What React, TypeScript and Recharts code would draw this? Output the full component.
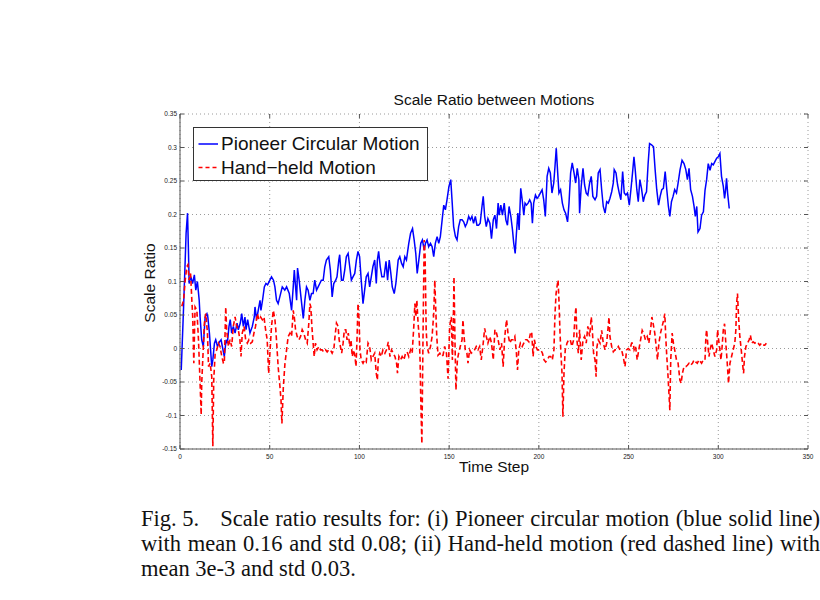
import { LineChart, Line, XAxis, YAxis, CartesianGrid } from 'recharts'

// pioneer circular motion (blue, solid)
const pioneerSteps = [
  0.7, 2, 2.9, 3.4, 4.2, 4.7, 5.1, 6, 7, 8, 8.8, 9.7, 10.7, 11.2, 12.1, 13, 14, 15, 15.5, 16.4,
  17.7, 18.3, 19.2, 19.9, 20.9, 22, 22.9, 23.6, 24.7, 25.7, 26.4, 27.3, 28, 28.8, 29.7, 30.7, 31.8, 32.5, 33.6, 34.4,
  35.3, 36.2, 36.8, 37.7, 39, 40.3, 41.4, 41.8, 42.7, 43.6, 44.6, 45.1, 46, 47, 47.9, 48.8, 51, 52.1, 52.9, 53.8,
  54.7, 57, 58.4, 59.4, 60.9, 62.2, 63.1, 63.7, 64.4, 65, 65.5, 66.4, 67.4, 68.7, 69.6, 70.5, 71.4, 72.4, 73.3, 74.2,
  75.1, 76.1, 77, 77.9, 78.8, 79.8, 80.7, 81.6, 82.9, 83.8, 84.8, 85.7, 86.8, 87.5, 88.5, 89, 90, 90.9, 91.8, 92.7,
  93.7, 94.6, 95.5, 96.4, 97.4, 98.3, 99.2, 100.1, 101, 102, 102.9, 103.8, 104.8, 105.7, 106.6, 107.5, 108.5, 109.4, 110, 110.7,
  111.6, 112.5, 113.7, 114.8, 115.7, 116.6, 117.5, 118.3, 119.4, 120.3, 121.6, 122.5, 123.5, 124.4, 125.3, 126.2, 127.5, 128.5, 129.6, 130.5,
  131.4, 132.2, 133.1, 134.2, 135.1, 136.1, 136.8, 137.7, 138.6, 139.6, 140.5, 141.4, 142.3, 143.3, 144.2, 145.1, 146.1, 147, 147.9, 148.8,
  149.9, 150.9, 151.6, 152.5, 153.5, 154.4, 155.3, 156.2, 157.2, 158.1, 159, 159.9, 160.9, 161.8, 162.7, 163.6, 164.6, 165.5, 166.4, 167.3,
  168.3, 169, 169.8, 170.7, 171.6, 172.7, 173.6, 174.6, 175.5, 176.4, 177.3, 177.9, 178.8, 179.7, 180.7, 181.6, 182.5, 183.4, 184.4, 185.3,
  186, 186.8, 187.5, 188.3, 189, 189.9, 190.7, 191.6, 192.3, 193.1, 194, 194.9, 195.7, 196.4, 197.1, 198.1, 199, 199.9, 200.8, 201.8,
  202.7, 203.6, 204.6, 205.5, 206.4, 207.3, 208.3, 209, 209.7, 210.5, 211.2, 212.1, 213.1, 214, 214.9, 216, 216.8, 217.7, 218.6, 219.6,
  220.5, 221.4, 222.3, 222.7, 223.6, 224.6, 225.5, 226.4, 227.3, 228.3, 229.2, 230.1, 231.3, 232.2, 233.1, 234.1, 235, 235.9, 236.9, 237.8,
  238.7, 239.6, 240.6, 241.5, 242, 243, 243.9, 244.8, 245.7, 246.7, 247.6, 248.5, 249.4, 250.4, 251.3, 252.2, 253, 253.7, 254.6, 255.4,
  256.3, 257.2, 258.2, 259.1, 260, 260.9, 261.7, 262.8, 263.9, 264.8, 265.7, 266.7, 267.6, 268.5, 269.4, 270.4, 271.3, 272.2, 273, 273.9,
  274.8, 275.7, 276.7, 277.6, 278.7, 279.8, 280.9, 281.9, 282.8, 283.7, 284.6, 285.6, 286.5, 287.2, 288, 288.7, 289.8, 290.7, 291.7, 292.6,
  293.5, 294.4, 295.4, 296.3, 297.2, 298.1, 299.1, 300, 300.9, 301.8, 302.8, 303.5, 304.1, 304.6, 305.2, 306.1,
]
const pioneerRatio = [
  -0.032, 0.062, 0.132, 0.172, 0.202, 0.147, 0.097, 0.107, 0.097, 0.11, 0.087, 0.1, 0.072, 0.047, 0.013, 0.003, 0.047, 0.052, 0.047, 0.023,
  -0.027, -0.017, 0.008, 0.013, 0.003, 0.01, 0.013, 0.003, -0.012, 0.013, 0.008, 0.033, 0.043, 0.023, 0.033, 0.023, 0.038, 0.028, 0.038, 0.052,
  0.033, 0.047, 0.028, 0.043, 0.023, 0.033, 0.047, 0.062, 0.043, 0.057, 0.072, 0.057, 0.072, 0.092, 0.097, 0.095, 0.107, 0.102, 0.092, 0.072,
  0.067, 0.092, 0.087, 0.092, 0.082, 0.057, 0.092, 0.117, 0.092, 0.072, 0.12, 0.102, 0.077, 0.045, 0.072, 0.092, 0.087, 0.072, 0.082, 0.082,
  0.102, 0.087, 0.092, 0.097, 0.102, 0.102, 0.122, 0.132, 0.137, 0.117, 0.077, 0.097, 0.102, 0.107, 0.132, 0.14, 0.102, 0.102, 0.117, 0.137,
  0.142, 0.122, 0.102, 0.107, 0.112, 0.132, 0.145, 0.137, 0.102, 0.067, 0.087, 0.107, 0.112, 0.092, 0.107, 0.122, 0.132, 0.097, 0.132, 0.145,
  0.122, 0.107, 0.107, 0.13, 0.102, 0.132, 0.112, 0.092, 0.082, 0.097, 0.132, 0.137, 0.127, 0.122, 0.137, 0.132, 0.157, 0.172, 0.179, 0.162,
  0.142, 0.112, 0.132, 0.157, 0.162, 0.147, 0.157, 0.162, 0.152, 0.157, 0.152, 0.137, 0.157, 0.167, 0.157, 0.167, 0.192, 0.214, 0.207, 0.222,
  0.242, 0.252, 0.222, 0.182, 0.167, 0.162, 0.182, 0.192, 0.192, 0.189, 0.182, 0.187, 0.197, 0.192, 0.197, 0.187, 0.197, 0.184, 0.184, 0.187,
  0.212, 0.227, 0.197, 0.182, 0.194, 0.187, 0.164, 0.192, 0.199, 0.179, 0.217, 0.199, 0.214, 0.199, 0.217, 0.192, 0.184, 0.212, 0.197, 0.177,
  0.157, 0.142, 0.172, 0.202, 0.177, 0.239, 0.222, 0.199, 0.217, 0.214, 0.217, 0.222, 0.217, 0.187, 0.217, 0.229, 0.224, 0.227, 0.232, 0.237,
  0.222, 0.197, 0.257, 0.269, 0.262, 0.232, 0.247, 0.272, 0.299, 0.262, 0.232, 0.237, 0.217, 0.207, 0.202, 0.189, 0.217, 0.262, 0.277, 0.262,
  0.247, 0.269, 0.252, 0.202, 0.242, 0.269, 0.244, 0.232, 0.229, 0.247, 0.257, 0.227, 0.222, 0.227, 0.262, 0.267, 0.237, 0.212, 0.202, 0.219,
  0.217, 0.224, 0.234, 0.247, 0.267, 0.262, 0.244, 0.232, 0.222, 0.264, 0.232, 0.229, 0.232, 0.214, 0.237, 0.262, 0.286, 0.267, 0.237, 0.219,
  0.252, 0.239, 0.219, 0.229, 0.234, 0.276, 0.306, 0.304, 0.301, 0.267, 0.237, 0.214, 0.227, 0.237, 0.239, 0.264, 0.237, 0.212, 0.197, 0.219,
  0.227, 0.237, 0.232, 0.247, 0.267, 0.281, 0.276, 0.267, 0.252, 0.269, 0.237, 0.227, 0.212, 0.197, 0.212, 0.174, 0.179, 0.199, 0.204, 0.236,
  0.252, 0.276, 0.266, 0.276, 0.274, 0.279, 0.284, 0.286, 0.291, 0.257, 0.242, 0.224, 0.237, 0.254, 0.232, 0.209,
]

// hand-held motion (red, dashed)
const handheldSteps = [
  1, 2, 2.9, 3.8, 4.4, 5.1, 5.9, 6.6, 7.1, 7.7, 8.4, 9.4, 9.9, 10.3, 11.2, 11.8, 12.1, 13.1, 13.6, 14.4,
  15.3, 15.9, 16.8, 17.7, 18.3, 18.8, 19.6, 20.5, 21.4, 22.3, 23.3, 24.2, 24.7, 25.5, 26, 27, 27.9, 28.8, 29.7, 30.7,
  31.6, 32.5, 33.4, 34, 34.7, 35.7, 36.6, 37.5, 38.4, 39.4, 40.3, 41.2, 42.1, 43.1, 44, 44.9, 45.9, 46.8, 47.7, 48.6,
  49.4, 50.1, 51, 52, 52.9, 53.4, 54, 54.7, 55.7, 56.3, 56.8, 57.6, 58.5, 59.4, 60.3, 61.3, 62.2, 63.1, 63.7, 64.4,
  65.3, 66.3, 67.2, 68.1, 69, 70, 70.9, 71.8, 72.4, 72.9, 73.5, 74.2, 74.8, 75.5, 76.4, 77.4, 78.3, 79.2, 80.1, 81.1,
  82, 82.9, 83.8, 84.8, 85.7, 86.4, 87.2, 88.1, 88.7, 89.4, 90.1, 90.9, 91.6, 92.4, 93.1, 93.8, 94.6, 95.3, 96, 96.8,
  97.5, 98.1, 98.7, 99.2, 99.8, 100.3, 101, 102, 102.9, 103.8, 104.8, 105.7, 106.6, 107.5, 108.5, 109.4, 110, 110.5, 111.3, 112.2,
  113.1, 114.2, 115.1, 116.1, 117, 117.9, 118.8, 119.8, 120.7, 121.2, 122, 122.9, 123.8, 124.8, 125.7, 126.6, 127.5, 128.5, 129.4, 130.3,
  130.9, 131.4, 132, 132.7, 133.3, 133.8, 134.2, 134.8, 135.1, 135.5, 136.1, 136.6, 137.2, 137.7, 138.6, 139.6, 140.5, 141.4, 142, 142.5,
  143.1, 143.8, 144.8, 145.7, 146.6, 147.5, 148.5, 149.4, 150.3, 151.2, 151.8, 152.3, 152.7, 153.3, 153.8, 154.6, 155.3, 156.2, 157.2, 157.7,
  158.3, 159, 159.9, 160.5, 161.4, 162.3, 163.3, 164.2, 165.1, 166.1, 167, 167.9, 168.8, 169.8, 170.7, 171.6, 172.7, 173.6, 174.6, 175.5,
  176.4, 177.3, 178.3, 179.2, 180.1, 181, 182, 182.9, 183.8, 184.7, 185.7, 186.6, 187.5, 188.1, 188.8, 189.7, 190.7, 191.6, 192.5, 193.4,
  194.4, 195.3, 196, 196.8, 197.5, 198.3, 199.2, 200.1, 201, 202, 202.9, 203.8, 204.7, 205.7, 206.6, 207.5, 208.4, 209, 209.6, 210.1,
  210.7, 211.2, 211.8, 212.3, 212.9, 213.4, 214, 214.7, 215.7, 216.6, 217.5, 218.4, 219.4, 220.1, 220.7, 221.2, 222, 222.7, 223.6, 224.6,
  225.5, 226.4, 227.3, 228.3, 229.2, 229.7, 230.5, 231.3, 231.9, 232.4, 233.1, 234.1, 235, 235.9, 236.9, 237.8, 238.3, 239.1, 239.6, 240.6,
  241.5, 242.4, 243.3, 244.3, 245.2, 246.1, 247, 248, 248.9, 249.8, 250.7, 251.7, 252.6, 253.1, 253.9, 254.8, 255.7, 256.7, 257.6, 258.5,
  259.4, 260.4, 261.3, 262.2, 263, 263.7, 264.6, 265.6, 266.1, 266.9, 267.8, 268.7, 269.6, 270.2, 270.7, 271.3, 271.9, 272.4, 273, 273.5,
  274.3, 275, 275.7, 276.7, 277.6, 278.6, 279.3, 280, 280.9, 281.9, 282.8, 283.7, 284.6, 285.6, 286.5, 287.4, 288.3, 289.3, 290.7, 291.7,
  292.6, 293.1, 293.5, 294.1, 294.8, 295.4, 296.3, 297.2, 298.1, 299.1, 299.6, 300.4, 300.9, 301.5, 302, 302.8, 303.5, 304.2, 305, 305.7,
  306.5, 307.4, 308.3, 309.2, 309.8, 310.2, 310.7, 311.3, 312, 312.8, 313.5, 314.1, 314.6, 315.4, 316.3, 317.2, 317.9, 318.7, 319.4, 320.4,
  321.3, 322.2, 323.1, 324.1, 325, 325.9, 326.8,
]
const handheldRatio = [
  0.063, 0.072, 0.102, 0.122, 0.125, 0.102, 0.112, 0.072, 0.047, -0.022, 0.062, 0.057, 0.033, 0.013, -0.052, -0.099, -0.052, 0.008, 0.038, 0.052,
  0.023, -0.027, -0.022, -0.042, -0.146, -0.047, -0.007, -0.002, 0.008, 0.003, -0.012, -0.022, -0.022, 0.062, 0.028, 0.003, 0.013, 0.003, 0.033, 0.047,
  0.033, 0.028, 0.013, -0.012, 0.023, 0.033, 0.013, 0.008, 0.013, 0.008, 0.01, 0.023, 0.033, 0.052, 0.043, 0.047, 0.043, 0.047, 0.028, 0.013,
  -0.037, -0.007, 0.033, 0.057, 0.043, 0.028, 0.003, -0.027, -0.057, -0.077, -0.112, -0.057, -0.022, -0.002, 0.018, 0.023, 0.018, 0.057, 0.047, 0.028,
  0.018, 0.013, 0.018, 0.028, 0.023, 0.013, 0.008, 0.038, 0.067, 0.062, 0.033, 0.008, -0.012, 0.008, -0.002, 0.003, -0.002, -0.002, -0.005, -0.002,
  -0.005, -0.002, -0.002, -0.007, -0.002, 0.018, 0.038, 0.033, 0.013, 0.003, -0.007, 0.008, 0.028, 0.028, 0.013, 0.023, 0.003, 0.013, -0.012, -0.002,
  -0.012, -0.027, 0.018, 0.067, 0.043, -0.002, -0.017, -0.022, -0.017, -0.02, 0.008, 0.003, -0.017, -0.012, -0.007, -0.037, -0.047, -0.017, -0.007, -0.012,
  -0.002, -0.007, -0.002, 0.01, -0.012, -0.002, -0.007, -0.012, -0.022, -0.037, -0.012, -0.017, -0.012, -0.017, -0.007, -0.005, -0.012, -0.002, -0.007, 0.033,
  0.067, 0.047, 0.072, 0.037, 0.018, -0.017, -0.077, -0.142, -0.067, 0.033, 0.162, 0.137, 0.028, 0.003, -0.007, 0.003, 0.018, 0.052, 0.102, 0.062,
  0.018, -0.01, -0.007, -0.012, -0.01, 0.003, -0.007, -0.045, 0.033, 0.047, -0.017, 0.033, 0.107, 0.003, -0.062, -0.017, -0.007, 0.003, 0.013, 0.043,
  0.018, -0.002, -0.007, -0.022, -0.002, -0.007, -0.005, -0.002, 0.003, -0.002, 0.003, -0.017, 0.003, 0.03, 0.018, 0.008, 0.018, 0.008, -0.017, 0.028,
  0.023, 0.013, -0.002, 0.008, -0.027, 0.018, 0.043, 0.02, 0.008, 0.013, 0.013, 0.018, -0.007, -0.032, -0.002, 0.008, 0.003, 0.008, 0.013, 0.013,
  0.01, 0.023, 0.025, -0.012, 0.013, 0.003, -0.002, -0.002, -0.002, -0.007, -0.017, -0.02, -0.017, -0.012, -0.012, -0.017, -0.002, 0.052, 0.082, 0.092,
  0.102, 0.072, 0.023, -0.007, -0.037, -0.102, -0.037, -0.002, 0.008, 0.013, 0.013, 0.003, 0.013, 0.047, 0.062, 0.013, -0.007, 0.028, -0.017, 0.013,
  0.018, 0.008, 0.033, 0.018, 0.047, 0.033, -0.007, -0.017, -0.042, 0.003, 0.013, 0.008, 0.027, 0.008, -0.002, 0.008, 0.023, 0.047, 0.018, 0.003,
  -0.005, -0.002, -0.002, 0.003, -0.002, -0.002, -0.012, -0.027, -0.002, 0, -0.002, 0.008, 0.008, -0.002, 0.003, -0.017, -0.002, 0.013, 0.027, 0.022,
  0.013, 0.018, 0.008, 0.027, 0.047, 0.037, 0.023, -0.002, -0.017, 0.008, 0.023, 0.033, 0.043, 0.052, 0.018, -0.012, -0.037, -0.062, -0.092, -0.017,
  0.023, 0.008, -0.002, -0.017, -0.022, -0.047, -0.052, -0.037, -0.027, -0.027, -0.025, -0.022, -0.025, -0.022, -0.017, -0.02, -0.022, -0.017, -0.022, -0.017,
  -0.017, 0.018, 0.028, 0.008, -0.012, -0.002, 0.008, -0.002, -0.012, -0.002, 0.028, 0.008, -0.002, -0.017, -0.002, 0.028, 0.037, 0.008, -0.022, -0.052,
  -0.022, -0.012, -0.002, 0.008, 0.028, 0.067, 0.082, 0.047, 0.018, -0.002, -0.022, -0.037, -0.012, 0.003, 0.008, 0.013, 0.02, 0.008, 0.01, 0.008,
  0.01, 0.008, 0.005, 0.008, 0.005, 0.005, 0.008,
]

const xTicks = [0, 50, 100, 150, 200, 250, 300, 350]
const yTicks = [-0.15, -0.1, -0.05, 0, 0.05, 0.1, 0.15, 0.2, 0.25, 0.3, 0.35]

const pioneerData = pioneerSteps.map((step, i) => ({ step, ratio: pioneerRatio[i] }))
const handheldData = handheldSteps.map((step, i) => ({ step, ratio: handheldRatio[i] }))

const PLOT_W = 628
const PLOT_H = 335
const AXIS = '#555'
const SANS = '"Liberation Sans", Arial, Helvetica, sans-serif'

function XTick({ x, y, payload }: any) {
  return (
    <g>
      <line x1={x} x2={x} y1={y} y2={y - 4} stroke={AXIS} />
      <line x1={x} x2={x} y1={y - PLOT_H} y2={y - PLOT_H + 4} stroke={AXIS} />
      <text x={x} y={y + 10} textAnchor="middle" fontSize={6.5} fontFamily={SANS} fill="#222">
        {payload.value}
      </text>
    </g>
  )
}

function YTick({ x, y, payload }: any) {
  return (
    <g>
      <line x1={x} x2={x + 4} y1={y} y2={y} stroke={AXIS} />
      <line x1={x + PLOT_W} x2={x + PLOT_W - 4} y1={y} y2={y} stroke={AXIS} />
      <text x={x - 3} y={y} dy="0.35em" textAnchor="end" fontSize={6.5} fontFamily={SANS} fill="#222">
        {payload.value}
      </text>
    </g>
  )
}

export default function App() {
  return (
    <div style={{ position: 'absolute', left: 0, top: 0, width: 820, height: 600, background: '#fff' }}>
      <div style={{ position: 'absolute', left: 494, top: 100, transform: 'translate(-50%, -50%)', fontFamily: SANS, fontSize: 15.5, whiteSpace: 'nowrap', color: '#111' }}>
        Scale Ratio between Motions
      </div>

      <div style={{ position: 'absolute', left: 0, top: 0 }}>
        <LineChart width={820} height={480} margin={{ top: 114, right: 12, bottom: 11, left: 140 }}>
          <CartesianGrid stroke="#9a9a9a" strokeDasharray="1 3" />
          <XAxis
            dataKey="step"
            type="number"
            domain={[0, 350]}
            ticks={xTicks}
            interval={0}
            height={20}
            tickLine={false}
            tickSize={0}
            tickMargin={0}
            tick={<XTick />}
            axisLine={{ stroke: AXIS }}
            allowDuplicatedCategory={false}
          />
          <XAxis xAxisId="top" orientation="top" type="number" domain={[0, 350]} height={0} tick={false} tickLine={false} axisLine={{ stroke: AXIS }} />
          <YAxis
            type="number"
            domain={[-0.15, 0.35]}
            ticks={yTicks}
            interval={0}
            width={40}
            tickLine={false}
            tickSize={0}
            tickMargin={0}
            tick={<YTick />}
            axisLine={{ stroke: AXIS }}
          />
          <YAxis yAxisId="right" orientation="right" domain={[-0.15, 0.35]} width={0} tick={false} tickLine={false} axisLine={{ stroke: AXIS }} />
          <Line
            data={pioneerData}
            dataKey="ratio"
            type="linear"
            stroke="#0000ff"
            strokeWidth={1.5}
            dot={false}
            isAnimationActive={false}
          />
          <Line
            data={handheldData}
            dataKey="ratio"
            type="linear"
            stroke="#ff0000"
            strokeWidth={1.6}
            strokeDasharray="5 3"
            dot={false}
            isAnimationActive={false}
          />
        </LineChart>
      </div>

      {/* legend box */}
      <div style={{ position: 'absolute', left: 193, top: 127, width: 235, height: 54, boxSizing: 'border-box', border: '1px solid #333', background: '#fff', fontFamily: SANS, fontSize: 19, color: '#111' }}>
        <svg width={24} height={54} style={{ position: 'absolute', left: 3, top: 0 }}>
          <line x1={1.5} x2={21} y1={16} y2={16} stroke="#0000ff" strokeWidth={1.5} />
          <line x1={1.5} x2={21} y1={39.5} y2={39.5} stroke="#ff0000" strokeWidth={1.3} strokeDasharray="4 3" />
        </svg>
        <div style={{ position: 'absolute', left: 27, top: 16, transform: 'translateY(-50%)', whiteSpace: 'nowrap' }}>Pioneer Circular Motion</div>
        <div style={{ position: 'absolute', left: 27, top: 39.5, transform: 'translateY(-50%)', whiteSpace: 'nowrap' }}>Hand−held Motion</div>
      </div>

      <div style={{ position: 'absolute', left: 494, top: 467, transform: 'translate(-50%, -50%)', fontFamily: SANS, fontSize: 15.5, whiteSpace: 'nowrap', color: '#111' }}>
        Time Step
      </div>
      <div style={{ position: 'absolute', left: 150, top: 283, transform: 'translate(-50%, -50%) rotate(-90deg)', fontFamily: SANS, fontSize: 15.5, whiteSpace: 'nowrap', color: '#111' }}>
        Scale Ratio
      </div>

      {/* caption */}
      <div style={{ position: 'absolute', left: 141, top: 506, width: 679, fontFamily: '"Liberation Serif", "Times New Roman", serif', fontSize: 22.5, lineHeight: '25px', color: '#111' }}>
        <div style={{ display: 'flex' }}>
          <span style={{ whiteSpace: 'nowrap' }}>Fig. 5.</span>
          <div style={{ flex: 1, marginLeft: 21, textAlign: 'justify', textAlignLast: 'justify' }}>
            Scale ratio results for: (i) Pioneer circular motion (blue solid line)
          </div>
        </div>
        <div style={{ textAlign: 'justify', textAlignLast: 'justify' }}>
          with mean 0.16 and std 0.08; (ii) Hand-held motion (red dashed line) with
        </div>
        <div>mean 3e-3 and std 0.03.</div>
      </div>
    </div>
  )
}
